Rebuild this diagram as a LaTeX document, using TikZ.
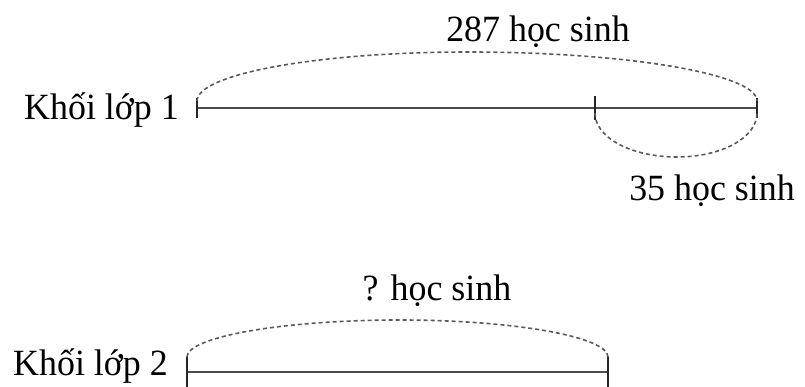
\documentclass[tikz,border=0pt]{standalone}
\usepackage{fontspec}
\setmainfont{Liberation Serif}
\begin{document}
\begin{tikzpicture}[x=1pt,y=-1pt,
  seg/.style={line width=1.9pt,draw=black!70},
  tick/.style={line width=1.2pt,draw=black!85},
  brace/.style={dash pattern=on 4pt off 3pt,line width=1.6pt,draw=black!65},
  lbl/.style={font=\fontsize{37}{40}\selectfont,inner sep=0pt,xscale=0.97}]
\useasboundingbox (0,0) rectangle (805,387);
% row 1
\node[lbl,anchor=east] (k1) at (179,110) {Khối lớp 1};
\coordinate (a1) at (197,108);
\coordinate (m1) at (595,108);
\coordinate (b1) at (757,108);
\draw[seg] (a1) -- (b1);
\draw[tick] ([yshift=-10]a1) -- ([yshift=10]a1);
\draw[tick] ([yshift=-12]m1) -- ([yshift=12]m1);
\draw[tick] ([yshift=-10]b1) -- ([yshift=10]b1);
\coordinate (t1) at (468,52);
\draw[brace] (197,101) .. controls (197,74) and (318,52) .. (t1)
  .. controls (627,52) and (757,74) .. (757,101);
\coordinate (u1) at (677,157);
\draw[brace] (595,113) .. controls (595,138) and (632,157) .. (u1)
  .. controls (721,157) and (757,138) .. (757,113);
\node[lbl] (l287) at (538,32) {287 học sinh};
\node[lbl] (l35) at (712,191) {35 học sinh};
% row 2
\node[lbl,anchor=east] (k2) at (168,366) {Khối lớp 2};
\coordinate (a2) at (187,372);
\coordinate (b2) at (608,372);
\draw[seg] (a2) -- (b2);
\draw[tick] ([yshift=-16]a2) -- ([yshift=15]a2);
\draw[tick] ([yshift=-16]b2) -- ([yshift=15]b2);
\coordinate (t2) at (400,320);
\draw[brace] (187,357) .. controls (187,337) and (282,320) .. (t2)
  .. controls (515,320) and (608,337) .. (608,357);
\node[lbl] (lq) at (437,291) {? học sinh};
\end{tikzpicture}
\end{document}
